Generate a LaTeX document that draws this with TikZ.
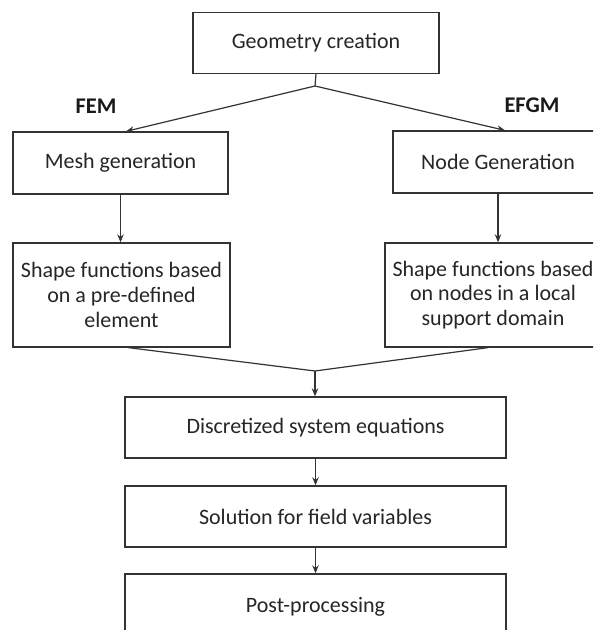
\documentclass[tikz,border=0pt]{standalone}
\usepackage{fontspec}
\setmainfont{Carlito}
\usetikzlibrary{arrows.meta,calc}
\begin{document}
\begin{tikzpicture}[x=0.5pt,y=-0.5pt,
  box/.style={draw=black!80, line width=0.65pt, inner sep=0pt, align=center,
    font=\fontsize{11pt}{12.4pt}\selectfont, text=black!85},
  conn/.style={draw=black!80, line width=0.6pt},
  arr/.style={conn, -{Stealth[length=4pt,width=3.2pt]}},
  lbl/.style={font=\fontsize{11.2pt}{13pt}\selectfont\bfseries, text=black!90}]
\clip (0,0) rectangle (593,630);
\fill[white] (0,0) rectangle (593,630);
% boxes
\node[box, minimum width=123pt, minimum height=30.5pt] (geo) at (316,43) {Geometry creation};
\node[box, minimum width=107.5pt, minimum height=31pt] (mesh) at (120.5,163) {Mesh generation};
\node[box, minimum width=105pt, minimum height=31pt] (ngen) at (498,162) {Node Generation};
\node[box, minimum width=108.5pt, minimum height=52pt] (lshape) at (121.5,295) {Shape functions based\\on a pre-defined\\element};
\node[box, minimum width=108pt, minimum height=52pt] (rshape) at (493,295) {Shape functions based\\on nodes in a local\\support domain};
\node[box, minimum width=190.5pt, minimum height=30.5pt] (disc) at (315.5,427.5) {Discretized system equations};
\node[box, minimum width=190.5pt, minimum height=30.5pt] (sol) at (315.5,516.5) {Solution for field variables};
\node[box, minimum width=190.5pt, minimum height=33pt] (post) at (315.5,607) {Post-processing};
% labels
\node[lbl] (fem) at (96,106) {FEM};
\node[lbl] (efgm) at (532,105) {EFGM};
% junctions
\coordinate (j1) at (315,86);
\coordinate (j2) at (315,371);
% connectors
\draw[conn] (geo.south) -- (j1);
\draw[arr] (j1) -- ([xshift=2.75pt]mesh.north);
\draw[arr] (j1) -- ([xshift=3.5pt]ngen.north);
\draw[arr] (mesh.south) -- (mesh.south |- lshape.north);
\draw[arr] (ngen.south) -- (ngen.south |- rshape.north);
\draw[conn] ([xshift=3.5pt]lshape.south) -- (j2);
\draw[conn] ([xshift=-2.5pt]rshape.south) -- (j2);
\draw[arr] (j2) -- (j2 |- disc.north);
\draw[arr] (disc.south) -- (sol.north);
\draw[arr] (sol.south) -- (post.north);
\end{tikzpicture}
\end{document}
